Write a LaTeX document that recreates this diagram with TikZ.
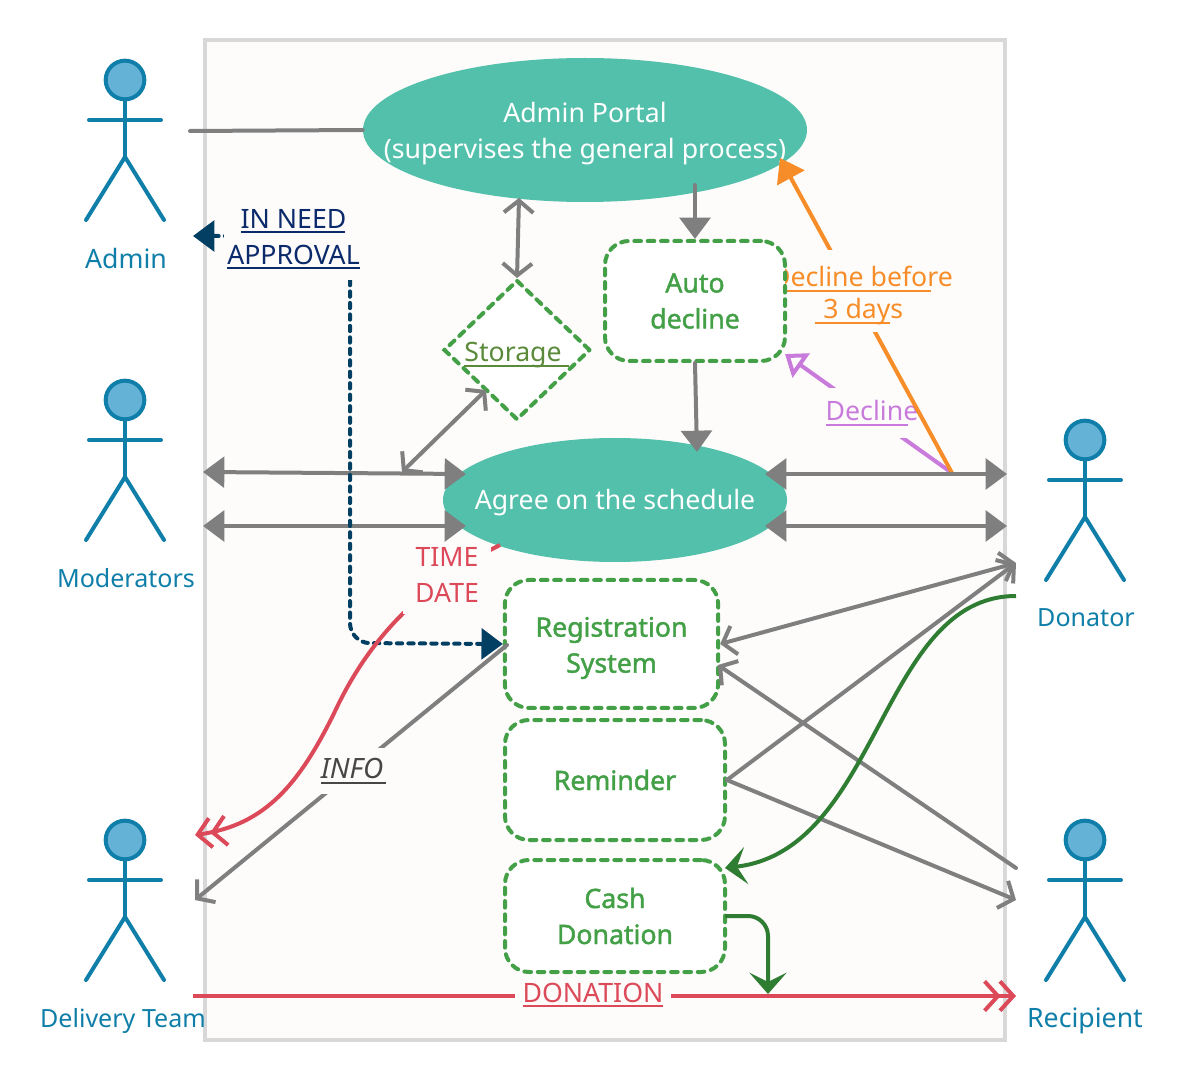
\documentclass[tikz,border=0pt]{standalone}
\usepackage{fontspec}
\setmainfont{Noto Sans}
\newfontfamily\boxfont{Noto Sans}[FakeBold=1.6]
\usetikzlibrary{arrows.meta,shapes.geometric}

\definecolor{panelbg}{HTML}{FDFCFB}
\definecolor{panelrim}{HTML}{D8D8D8}
\definecolor{teal}{HTML}{52C0AA}
\definecolor{boxgreen}{HTML}{43A047}
\definecolor{darkgreen}{HTML}{2E7D32}
\definecolor{edgegray}{HTML}{7F7F7F}
\definecolor{actorblue}{HTML}{0F7EA8}
\definecolor{headblue}{HTML}{64B2D6}
\definecolor{navy}{HTML}{033F63}
\definecolor{inkblue}{HTML}{0B2A6B}
\definecolor{rosered}{HTML}{DC4A5A}
\definecolor{orangeline}{HTML}{F78D28}
\definecolor{lilac}{HTML}{C97BDC}
\definecolor{moss}{HTML}{5A8A3A}

% underline of a given width in px
\newcommand{\ulpx}[2]{\leavevmode\rlap{\rule[-3.6pt]{#1\dimexpr0.75pt\relax}{1.2pt}}#2}

\tikzset{
    solidtip/.tip={Triangle[length=16pt,width=23pt]},
    barbtip/.tip={Straight Barb[length=9pt,width=22pt]},
    doubletip/.tip={Straight Barb[length=10pt,width=22pt,sep=-2pt]Straight Barb[length=10pt,width=22pt]},
    leaftip/.tip={Stealth[length=16pt,width=28pt,inset=7pt]},
    txt/.style={font=\fontsize{20pt}{27pt}\selectfont,align=center,inner sep=0pt},
    actorname/.style={txt,text=actorblue},
    smallname/.style={actorname,font=\fontsize{18.8pt}{27pt}\selectfont},
    oval/.style={shape=ellipse,fill=teal,inner sep=0pt},
    ovaltext/.style={txt,text=white},
    dashbox/.style={txt,draw=boxgreen,fill=white,line width=3pt,line cap=round,
        dash pattern=on 5pt off 5pt,rounded corners=18pt,text=boxgreen,font=\fontsize{20pt}{27pt}\boxfont\selectfont},
    boxtext/.style={txt,text=boxgreen,font=\fontsize{20pt}{27pt}\boxfont\selectfont},
    graylink/.style={draw=edgegray,line width=3pt,line cap=round},
    masklabel/.style={txt,fill=panelbg},
    pics/actor/.style={code={
        \draw[actorblue,line width=3pt,line cap=round] (0,20)--(0,77);
        \draw[actorblue,line width=3pt,line cap=round] (-36,40)--(36,40);
        \draw[actorblue,line width=3pt,line cap=round] (-39,140)--(0,77)--(39,140);
        \node (-head) [shape=circle,draw=actorblue,fill=headblue,line width=3pt,minimum size=29pt,inner sep=0pt] at (0,0) {};
    }}
}

\begin{document}
\begin{tikzpicture}[x=0.75pt,y=-0.75pt]
\useasboundingbox (0,0) rectangle (1183,1080);

% Panel
\draw[panelrim,fill=panelbg,line width=3pt] (205,40) rectangle (1005,1040);

% Actors
\pic (admin) at (125,80) {actor};
\pic (moderators) at (125,400) {actor};
\pic (delivery) at (125,840) {actor};
\pic (donator) at (1085,440) {actor};
\pic (recipient) at (1085,840) {actor};
\node (adminname) [actorname] at (126,259) {Admin};
\node (moderatorsname) [smallname] at (126,578) {Moderators};
\node (deliveryname) [smallname] at (123,1021) {Delivery Team};
\node (donatorname) [smallname] at (1086,618) {Donator};
\node (recipientname) [actorname] at (1085,1021) {Recipient};

% Free ends
\coordinate (adminport) at (190,131);
\coordinate (adminflag) at (193,236);
\coordinate (modtop) at (203,472);
\coordinate (modlow) at (203,526);
\coordinate (crossing) at (402,472);
\coordinate (agreetopw) at (466,474);
\coordinate (agreelowW) at (466,526);
\coordinate (agreetope) at (765,474);
\coordinate (agreelowe) at (765,526);
\coordinate (dontop) at (1007,474);
\coordinate (donlow) at (1007,526);
\coordinate (split) at (952,473);
\coordinate (portalout) at (695,185);
\coordinate (portalfoot) at (519,198);
\coordinate (portaltip) at (780,158);
\coordinate (agreein) at (697,452);
\coordinate (agreeout) at (500,545);
\coordinate (delred) at (195,835);
\coordinate (delgray) at (195,900);
\coordinate (delfoot) at (193,996);
\coordinate (donin) at (1016,563);
\coordinate (donout) at (1016,596);
\coordinate (recfrom) at (1016,868);
\coordinate (recin) at (1016,900);
\coordinate (recfoot) at (1016,996);
\coordinate (storein) at (486,390);
\coordinate (declinetip) at (785,354);
\coordinate (regback) at (718,665);
\coordinate (reglink) at (507,645);
\coordinate (cashtop) at (725,868);
\coordinate (cashout) at (725,916);
\coordinate (footjoin) at (768,994);

% Ovals
\node (portal) [oval,minimum width=333pt,minimum height=108pt,
    label={[ovaltext,yshift=-3pt]center:Admin Portal\\(supervises the general process)}] at (585,130) {};
\node (agree) [oval,minimum width=258pt,minimum height=93pt,
    label={[ovaltext,yshift=-2pt]center:Agree on the schedule}] at (615,500) {};

% Decline
\draw[lilac,line width=3pt,-{Triangle[open,length=15pt,width=22pt]}] (split)--(declinetip);
\node (decline) [masklabel,text=lilac,minimum height=37pt] at (872,413) {\ulpx{82}{Decline}};

% Late decline, under the box
\draw[orangeline,line width=3pt,-{Triangle[length=17pt,width=23pt]}] (split)--(portaltip);
\node (latedecline) [fill=panelbg,minimum width=180pt,minimum height=61pt,
    label={[txt,text=orangeline,yshift=-3.7pt]center:\ulpx{160}{Decline before}\\[-3pt]\hspace*{-4pt}\ulpx{75}{\hspace*{6pt}3 days}}] at (862,291) {};

% Boxes
\node (storage) [shape=diamond,draw=boxgreen,fill=white,line width=3pt,line cap=round,inner sep=0pt,
    dash pattern=on 5pt off 5pt,minimum width=110pt,minimum height=105pt,
    label={[txt,text=moss,yshift=-4pt]center:\ulpx{105}{Storage}\hspace*{6pt}}] at (517,350) {};
\node (autodecline) [dashbox,minimum width=135pt,minimum height=90pt] at (695,301) {Auto\\decline};
\node (register) [dashbox,minimum width=160pt,minimum height=96pt,
    label={[boxtext,yshift=-3pt]center:Registration\\System}] at (611.5,644) {};
\node (reminder) [dashbox,minimum width=165pt,minimum height=90pt] at (615,780) {Reminder};
\node (cash) [dashbox,minimum width=165pt,minimum height=84pt] at (615,916) {Cash\\Donation};

% Gray edges
\draw[graylink] (adminport)--(portal.west);
\draw[graylink,{barbtip}-{barbtip}] (portalfoot)--(storage.north);
\draw[graylink,-{solidtip}] (portalout)--(autodecline.north);
\draw[graylink,-{solidtip}] (autodecline.south)--(agreein);
\draw[graylink,{barbtip}-{barbtip}] (crossing)--(storein);
\draw[graylink,{solidtip}-{solidtip}] (modtop)--(agreetopw);
\draw[graylink,{solidtip}-{solidtip}] (modlow)--(agreelowW);
\draw[graylink,{solidtip}-{solidtip}] (agreetope)--(dontop);
\draw[graylink,{solidtip}-{solidtip}] (agreelowe)--(donlow);
\draw[graylink,{barbtip}-{barbtip}] (register.east)--(donin);
\draw[graylink,-{barbtip}] (reminder.east)--(donin);
\draw[graylink,{barbtip}-] (regback)--(recfrom);
\draw[graylink,-{barbtip}] (reminder.east)--(recin);

% Info
\draw[graylink,-{barbtip}] (reglink)--(delgray);
\node (info) [masklabel,text=black!72,font=\fontsize{21pt}{27pt}\selectfont\itshape,minimum width=50pt,minimum height=35pt] at (352,771) {\ulpx{65}{INFO}};

% Approval path
\draw[navy,line width=3pt,line cap=round,dash pattern=on 4pt off 4.6pt,rounded corners=15pt,
    {solidtip}-{solidtip}] (adminflag)--(350,236)--(350,643)--(register.west);
\node (approval) [fill=panelbg,minimum width=104pt,minimum height=64pt,
    label={[txt,text=inkblue,yshift=-1.5pt]center:\ulpx{104}{IN NEED}\\\ulpx{133}{APPROVAL}}] at (293.5,237) {};

% Time date
\draw[rosered,line width=3pt,-{doubletip}] (agreeout) .. controls (410,590) and (365,650) .. (338,705)
    .. controls (300,785) and (265,825) .. (delred);
\node (timedate) [fill=panelbg,minimum width=66pt,minimum height=53pt,
    label={[txt,text=rosered,yshift=3pt]center:TIME\\DATE}] at (447,579) {};

% Donation
\draw[rosered,line width=3pt,-{doubletip}] (delfoot)--(recfoot);
\node (donation) [masklabel,text=rosered,inner xsep=6pt,inner ysep=2pt] at (593,995) {\ulpx{140}{DONATION}};

% Green edges
\draw[darkgreen,line width=3pt,-{leaftip}] (donout) .. controls (880,596) and (880,850) .. (cashtop);
\draw[darkgreen,line width=3pt,rounded corners=15pt,-{leaftip}] (cashout)--(768,916)--(footjoin);

\end{tikzpicture}
\end{document}
